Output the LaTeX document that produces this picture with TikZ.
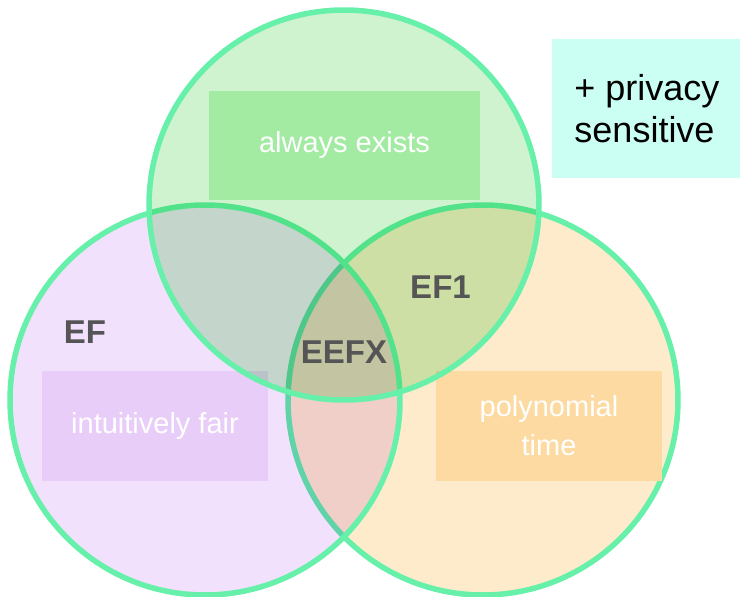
\documentclass[tikz,border=0pt]{standalone}
\usepackage{fontspec}
\setmainfont{Liberation Sans}
\usepackage{xcolor}
\usetikzlibrary{positioning}

\definecolor{ringline}{RGB}{102,240,170}
\definecolor{topfill}{RGB}{207,242,207}
\definecolor{leftfill}{RGB}{242,225,252}
\definecolor{rightfill}{RGB}{253,235,203}
\definecolor{existbox}{RGB}{163,234,163}
\definecolor{fairbox}{RGB}{232,205,249}
\definecolor{polybox}{RGB}{253,218,162}
\definecolor{privbox}{RGB}{204,255,243}
\definecolor{labelgrey}{RGB}{85,85,85}

\begin{document}
\begin{tikzpicture}[x=1pt,y=-1pt,
  ring/.style={draw=ringline,line width=5.5pt},
  tagbox/.style={rectangle,minimum width=226pt,minimum height=110pt,inner sep=0pt,
    text=white,align=center,font=\fontsize{29}{39}\selectfont},
  setlabel/.style={text=labelgrey,inner sep=0pt,font=\fontsize{33}{40}\selectfont\bfseries}]
  \useasboundingbox (0,0) rectangle (740,597);

  % right set first, the other two are multiplied over it
  \fill[rightfill] (483,400) circle (195pt);
  \draw[ring] (483,400) circle (195pt);
  \fill[leftfill,blend mode=multiply] (205,400) circle (195pt);
  \draw[ring] (205,400) circle (195pt);

  \node[tagbox,fill=fairbox] (fair) at (155,425.5) {intuitively fair};
  \node[tagbox,fill=polybox] (poly) at (549,425.5) {polynomial\\time};

  \fill[topfill,blend mode=multiply] (344,205) circle (195pt);
  \draw[ring] (344,205) circle (195pt);

  \node[tagbox,fill=existbox,minimum width=271pt,minimum height=109pt] (exists) at (344.5,145) {always exists};
  \node[rectangle,fill=privbox,minimum width=190pt,minimum height=139pt,inner sep=0pt,
    align=left,font=\fontsize{36}{42}\selectfont] (privacy) at (647,108.5) {+ privacy\\sensitive};

  \node[setlabel] (ef) at (85,332) {EF};
  \node[setlabel] (efone) at (440.5,287.5) {EF1};
  \node[setlabel] (eefx) at (344,352) {EEFX};
\end{tikzpicture}
\end{document}
